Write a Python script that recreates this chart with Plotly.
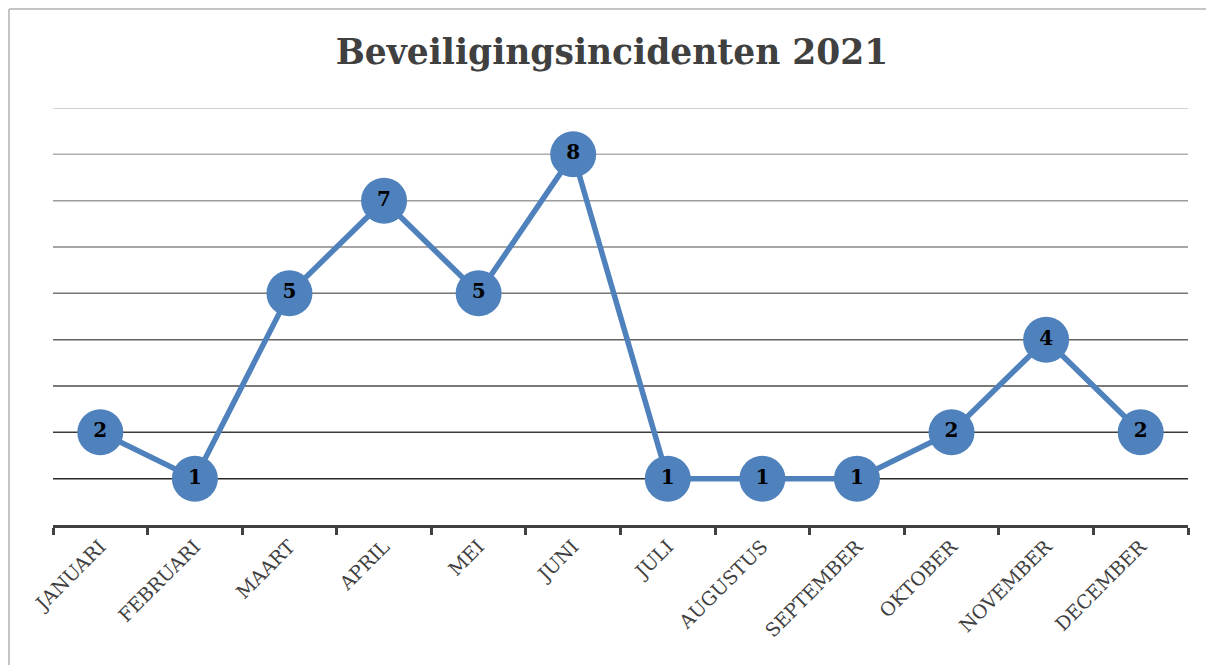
import plotly.graph_objects as go

months = ["JANUARI", "FEBRUARI", "MAART", "APRIL", "MEI", "JUNI", "JULI",
          "AUGUSTUS", "SEPTEMBER", "OKTOBER", "NOVEMBER", "DECEMBER"]
incidents = [2, 1, 5, 7, 5, 8, 1, 1, 1, 2, 4, 2]
grid_values = [1, 2, 3, 4, 5, 6, 7, 8, 9]
title_text = "Beveiligingsincidenten 2021"

OFF = 8  # page body margin
W, H = 1214 - OFF, 665 - OFF
ml, mr, mt, mb = 53 - OFF, 1214 - 1188, 108 - OFF, 665 - 525

fig = go.Figure()
fig.add_trace(go.Scatter(
    x=months, y=incidents, mode="lines+markers+text",
    text=[str(v) for v in incidents], textposition="middle center",
    textfont=dict(family="DejaVu Serif", size=20, color="black", weight="bold"),
    line=dict(color="#4F81BD", width=5.5),
    marker=dict(size=46, color="#4F81BD", line=dict(width=0)),
    cliponaxis=False, showlegend=False,
))

shapes = []
n = len(grid_values)
for i, gv in enumerate(grid_values):
    t = i / (n - 1)
    c = int(40 + t * (195 - 40))
    shapes.append(dict(type="line", xref="paper", yref="y", x0=0, x1=1, y0=gv, y1=gv,
                       line=dict(color=f"rgb({c},{c},{c})", width=1.5), layer="below"))
pw = W - ml - mr
ph = H - mt - mb
bx0 = (1 - ml) / pw
bx1 = (W + 30 - ml) / pw
by0 = (H - mb - (H + 30)) / ph
by1 = (H - mb - 1) / ph
border = dict(color="#c4c4c4", width=2)
shapes.append(dict(type="line", xref="paper", yref="paper", x0=bx0, x1=bx0, y0=by0, y1=by1,
                   line=border, layer="below"))
shapes.append(dict(type="line", xref="paper", yref="paper", x0=bx0, x1=bx1, y0=by1, y1=by1,
                   line=border, layer="below"))

fig.update_layout(
    width=W, height=H, margin=dict(l=ml, r=mr, t=mt, b=mb),
    paper_bgcolor="white", plot_bgcolor="white",
    title=dict(text=title_text, x=(612 - OFF) / W, xanchor="center", y=1 - (52 - OFF) / H, yanchor="middle",
               font=dict(family="DejaVu Serif", size=34.5, color="#404040", weight="bold")),
    shapes=shapes,
)
fig.update_xaxes(type="category", range=[-0.5, 11.5], showgrid=False,
                 showline=True, linecolor="#404040", linewidth=3,
                 ticks="outside", tickson="boundaries", ticklen=7, tickwidth=2.5, tickcolor="#404040",
                 tickangle=-45, tickfont=dict(family="DejaVu Serif", size=19, color="#404040"))
fig.update_yaxes(range=[0, 9], showgrid=False, zeroline=False, showticklabels=False, showline=False)

fig.write_html("out.html")
